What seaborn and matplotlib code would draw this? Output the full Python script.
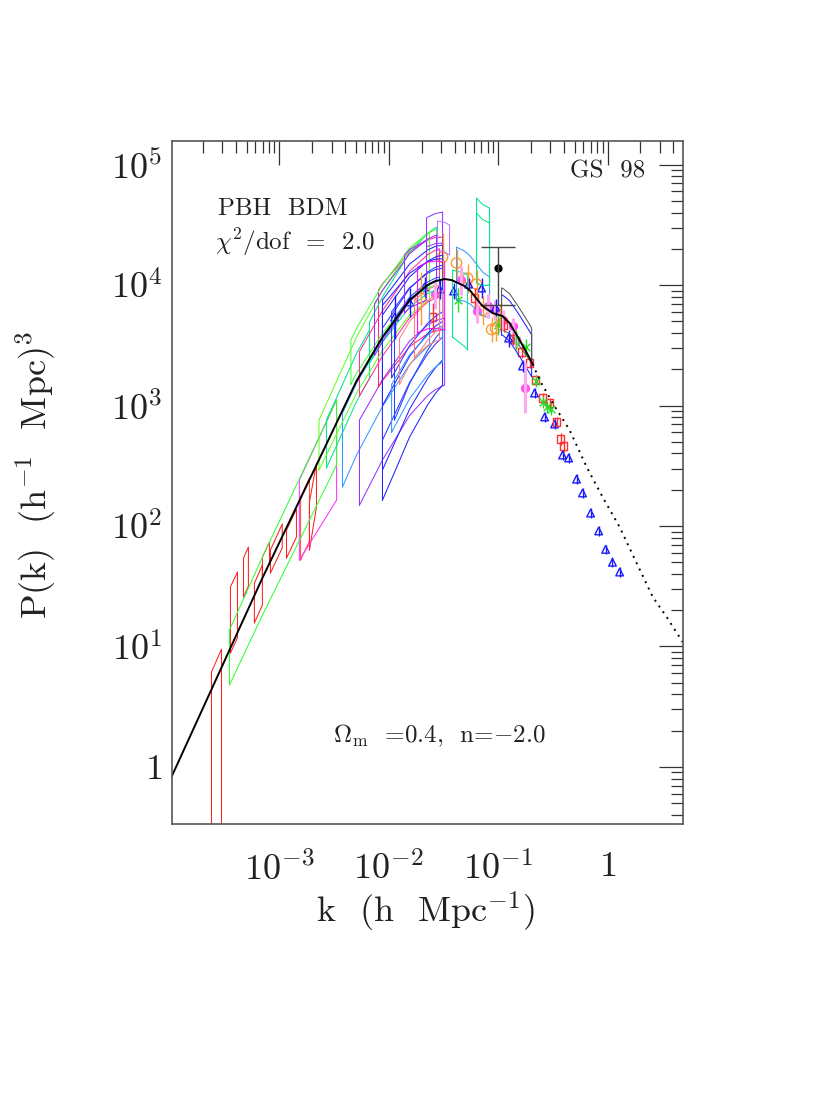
import numpy as np
import pandas as pd
import matplotlib
matplotlib.use('Agg')
import matplotlib.pyplot as plt
import seaborn as sns
from matplotlib.ticker import FixedLocator, NullFormatter

sns.set_theme(style='white')
plt.rcParams.update({
    'font.family': ['cmr10', 'DejaVu Serif'],
    'mathtext.fontset': 'cm',
    'axes.unicode_minus': False,
    'axes.formatter.use_mathtext': True,
})

# model curve (solid part, then dotted extrapolation)
model_k = [1.0e-4, 6.98e-4, 2.18e-3, 5.06e-3, 8.75e-3, 0.01175, 0.01546, 0.0226, 0.02673,
           0.0324, 0.0375, 0.0493, 0.0558, 0.0719, 0.0889, 0.1096, 0.1271, 0.157, 0.1936, 0.2065]
model_P = [0.78, 37.0, 321, 1596, 3700, 5320, 7510, 10000, 10790,
           11220, 11000, 9810, 8920, 6700, 5860, 5530, 4840, 3500, 2480, 2210]
dotted_k = [0.2065, 0.2393, 0.3147, 0.45, 0.644, 0.902, 1.29, 1.846, 2.59, 3.47, 4.86]
dotted_P = [2210, 1629, 1050, 626, 309, 174, 98, 49.3, 25.8, 17.6, 10.9]

# boxes: k1, k2, P_lo(k1), P_hi(k1), P_lo(k2), P_hi(k2), colour
boxes = [
    (2.39e-4, 2.95e-4, 0.2, 6.14, 0.2, 9.5, '#ff2020'),
    (3.56e-4, 4.13e-4, 8.83, 31.2, 11.8, 41.5, '#ff2020'),
    (4.69e-4, 5.20e-4, 25.7, 54.2, 31.8, 66.9, '#ff2020'),
    (5.90e-4, 6.98e-4, 15.7, 33.6, 22.1, 47.5, '#ff2020'),
    (6.98e-4, 8.10e-4, 37.0, 55.3, 49.3, 73.6, '#ff2020'),
    (8.27e-4, 1.06e-3, 40.7, 63.2, 65.7, 104, '#ff2020'),
    (1.16e-3, 1.43e-3, 54.2, 92.6, 81.1, 138, '#ff2020'),
    (1.56e-3, 1.88e-3, 52.2, 174, 75.1, 250, '#ff5050'),
    (1.88e-3, 2.18e-3, 63.2, 158, 144, 333, '#ff2020'),
    (1.52e-3, 3.33e-3, 52.2, 241, 164, 1111, '#ff33ff'),
    (3.49e-4, 3.33e-3, 4.79, 13.7, 321, 1111, '#33ff33'),
    (2.69e-3, 6.66e-3, 303, 758, 1690, 4234, '#00e68a'),
    (3.77e-3, 0.02356, 211, 866, 3180, 10000, '#3399ff'),
    (5.39e-3, 0.0324, 149, 758, 1480, 5320, '#9933ff'),
    (8.05e-3, 0.0310, 1425, 9100, 4240, 25010, '#ff2288'),
    (6.66e-3, 0.0273, 2250, 4930, 9100, 30280, '#00e68a'),
    (2.30e-3, 0.02356, 292, 758, 7510, 27540, '#66ff22'),
    (4.50e-3, 0.0273, 1500, 3500, 10000, 29000, '#44ff44'),
    (5.39e-3, 0.0291, 1200, 2800, 8000, 20000, '#ff3399'),
    (7.40e-3, 0.0273, 2600, 7000, 11000, 26000, '#9933ff'),
    (8.75e-3, 0.0310, 164, 7510, 1480, 21480, '#2222ff'),
    (8.75e-3, 0.0310, 292, 5640, 2390, 17740, '#2222ff'),
    (8.75e-3, 0.0310, 517, 4400, 3700, 14650, '#3333ff'),
    (8.75e-3, 0.0310, 1000, 6800, 5000, 16500, '#2222ff'),
    (0.01060, 0.0310, 1700, 6000, 6000, 13800, '#3333ff'),
    (0.01127, 0.0291, 758, 5320, 4000, 11640, '#2244ff'),
    (0.01060, 0.0310, 600, 1500, 2300, 4600, '#3399ff'),
    (0.01253, 0.0310, 1500, 3600, 4500, 9000, '#ff8080'),
    (0.02213, 0.0310, 20660, 35970, 22320, 40350, '#9933ff'),
    (0.0279, 0.0359, 19500, 33960, 17740, 31480, '#bb77ff'),
    (0.01392, 0.02213, 5860, 17740, 7510, 23620, '#9933ff'),
    (0.01832, 0.0324, 4000, 14090, 4240, 15520, '#ff00ff'),
    (0.01717, 0.0291, 2520, 7510, 3500, 10000, '#ff7777'),
    (0.0416, 0.0834, 7510, 20660, 5320, 11640, '#3399ff'),
    (0.0634, 0.0834, 10400, 52700, 10000, 43550, '#00e68a'),
    (0.0634, 0.0834, 10400, 39600, 10000, 32700, '#00e68a'),
    (0.0383, 0.0525, 3700, 13310, 2890, 12100, '#00e68a'),
    (0.1074, 0.2023, 3850, 8270, 1730, 3850, '#2222ff'),
    (0.1074, 0.2023, 4240, 9440, 2250, 4400, '#555555'),
]

# data points
blue_k = [0.0113, 0.0155, 0.0212, 0.0291, 0.0391, 0.0536, 0.0705, 0.0946, 0.1245, 0.167, 0.215,
          0.266, 0.328, 0.388, 0.441, 0.521, 0.591, 0.70, 0.83, 0.96, 1.11, 1.29]
blue_P = [5425, 7228, 9626, 9265, 8920, 10190, 9440, 6560, 3630, 2128, 1270,
          803, 702, 388, 367, 245, 188, 128, 91, 64, 50, 41.5]
blue_err = [0.18, 0.12, 0.08, 0.08, 0.07, 0.05, 0.08, 0.07, 0.07, 0.05, 0.04,
            0.04, 0.04, 0.04, 0.04, 0.04, 0.04, 0.04, 0.04, 0.04, 0.04, 0.04]

red_k = [0.0251, 0.0608, 0.112, 0.1355, 0.1637, 0.1936, 0.220, 0.2547, 0.295, 0.342, 0.372, 0.396]
red_P = [5425, 7800, 4656, 3563, 2780, 2254, 1629, 1153, 1050, 730, 527, 461]
red_err = [0.12, 0.08, 0.06, 0.05, 0.05, 0.04, 0.04, 0.04, 0.04, 0.04, 0.05, 0.05]

green_k = [0.0426, 0.0989, 0.147, 0.178, 0.224, 0.255, 0.277, 0.301]
green_P = [7510, 4656, 3497, 3058, 1597, 1068, 972, 935]
green_err = [0.10, 0.08, 0.08, 0.07, 0.05, 0.05, 0.05, 0.05]

orange_k = [0.0195, 0.031, 0.0416, 0.0525, 0.0634, 0.0719, 0.0871, 0.0946, 0.103]
orange_P = [7800, 17070, 15230, 11430, 10190, 6140, 4280, 4360, 5530]
orange_err = [0.22, 0.20, 0.12, 0.12, 0.12, 0.12, 0.10, 0.10, 0.10]

magenta_k = [0.0262, 0.0453, 0.0634, 0.080, 0.0927, 0.1096, 0.1355, 0.147, 0.1746]
magenta_P = [8420, 11000, 6140, 6680, 6210, 5130, 4570, 3497, 1397]
magenta_err = [0.12, 0.12, 0.10, 0.10, 0.08, 0.08, 0.07, 0.07, 0.21]

black_k = [0.0989]
black_P = [13840]
black_lo = [6820]
black_hi = [20660]

x_major = [1e-3, 1e-2, 1e-1, 1]
x_labels = ['$10^{-3}$', '$10^{-2}$', '$10^{-1}$', '$1$']
y_major = [1, 10, 100, 1e3, 1e4, 1e5]
y_labels = ['$1$', '$10^{1}$', '$10^{2}$', '$10^{3}$', '$10^{4}$', '$10^{5}$']

fig = plt.figure(figsize=(8.3, 11.11), dpi=100)
ax = fig.add_axes([0.2072, 0.2583, 0.6157, 0.6148])
ax.set_xscale('log')
ax.set_yscale('log')

lk_mod = np.log10(model_k)
lp_mod = np.log10(model_P)


def box_edges(k1, k2, p1, p2):
    # edge follows the model shape between the two corner values
    inner = [k for k in model_k if k1 < k < k2]
    ks = np.array([k1] + inner + [k2])
    lks = np.log10(ks)
    lm = np.interp(lks, lk_mod, lp_mod)
    t = (lks - lks[0]) / (lks[-1] - lks[0])
    off = (np.log10(p1) - lm[0]) * (1 - t) + (np.log10(p2) - lm[-1]) * t
    return ks, 10 ** (lm + off)


for k1, k2, lo1, hi1, lo2, hi2, col in boxes:
    ks, lo = box_edges(k1, k2, lo1, lo2)
    _, hi = box_edges(k1, k2, hi1, hi2)
    xs = np.concatenate([ks, ks[::-1], ks[:1]])
    ys = np.concatenate([lo, hi[::-1], lo[:1]])
    ax.plot(xs, ys, color=col, lw=0.75)


def errs(P, e):
    P = np.array(P)
    e = np.array(e)
    return [P - P / 10 ** e, P * 10 ** e - P]


ax.errorbar(magenta_k, magenta_P, yerr=errs(magenta_P, magenta_err), fmt='none',
            ecolor='#ffaaee', elinewidth=2.2)
ax.errorbar(orange_k, orange_P, yerr=errs(orange_P, orange_err), fmt='none',
            ecolor='#ff9933', elinewidth=1)
ax.errorbar(blue_k, blue_P, yerr=errs(blue_P, blue_err), fmt='none',
            ecolor='#1a1aff', elinewidth=1)
ax.errorbar(red_k, red_P, yerr=errs(red_P, red_err), fmt='none',
            ecolor='#ff3030', elinewidth=1)
ax.errorbar(green_k, green_P, yerr=errs(green_P, green_err), fmt='none',
            ecolor='#22dd22', elinewidth=1)
ax.errorbar(black_k, black_P,
            yerr=[np.array(black_P) - np.array(black_lo), np.array(black_hi) - np.array(black_P)],
            fmt='none', ecolor='#444444', elinewidth=1, capsize=12, capthick=1)

sns.scatterplot(x=magenta_k, y=magenta_P, ax=ax, marker='o', s=45, color='#ff55ee',
                edgecolor='#ff55ee', linewidth=0)
sns.scatterplot(x=orange_k, y=orange_P, ax=ax, marker='o', s=55, facecolor='none',
                edgecolor='#ff9933', linewidth=1)
sns.scatterplot(x=blue_k, y=blue_P, ax=ax, marker='^', s=30, facecolor='none',
                edgecolor='#1a1aff', linewidth=1)
sns.scatterplot(x=red_k, y=red_P, ax=ax, marker='s', s=28, facecolor='none',
                edgecolor='#ff3030', linewidth=1)
sns.scatterplot(x=green_k, y=green_P, ax=ax, marker='x', s=30, color='#22dd22',
                linewidth=1)
sns.scatterplot(x=black_k, y=black_P, ax=ax, marker='o', s=35, color='black', linewidth=0)

# model lines
sns.lineplot(x=model_k, y=model_P, ax=ax, color='black', lw=1.4, estimator=None, sort=False)
sns.lineplot(x=dotted_k, y=dotted_P, ax=ax, color='black', lw=1.4, estimator=None, sort=False,
             linestyle=(0, (1, 2.6)))

ax.set_xlim(1.04e-4, 4.9)
ax.set_ylim(0.336, 1.57e5)

ax.xaxis.set_major_locator(FixedLocator(x_major))
ax.set_xticklabels(x_labels)
ax.yaxis.set_major_locator(FixedLocator(y_major))
ax.set_yticklabels(y_labels)
minor_x = [m * 10.0 ** d for d in range(-4, 1) for m in range(2, 10)]
minor_y = [m * 10.0 ** d for d in range(-1, 6) for m in range(2, 10)]
ax.xaxis.set_minor_locator(FixedLocator(minor_x))
ax.yaxis.set_minor_locator(FixedLocator(minor_y))
ax.xaxis.set_minor_formatter(NullFormatter())
ax.yaxis.set_minor_formatter(NullFormatter())

for side in ['top', 'right', 'bottom', 'left']:
    ax.spines[side].set_visible(True)
    ax.spines[side].set_color('#555555')
    ax.spines[side].set_linewidth(1.2)
ax.tick_params(which='both', direction='in', top=True, right=True, color='#333333',
               width=0.9, labelsize=26, labelcolor='#222222')
ax.tick_params(which='major', length=17)
ax.tick_params(which='minor', length=8.5)
ax.tick_params(axis='x', pad=20)
ax.tick_params(axis='y', pad=7)

ax.set_xlabel('k  (h  Mpc$^{-1}$)', fontsize=26, color='#222222')
ax.set_ylabel('P(k)  (h$^{-1}$  Mpc)$^{3}$', fontsize=26, color='#222222')
ax.xaxis.set_label_coords(0.497, -0.097)
ax.yaxis.set_label_coords(-0.223, 0.511)

ax.text(0.926, 0.946, 'GS  98', transform=ax.transAxes, ha='right', va='baseline',
        fontsize=18, color='#222222')
ax.text(0.090, 0.892, 'PBH  BDM', transform=ax.transAxes, ha='left', va='baseline',
        fontsize=18, color='#222222')
ax.text(0.084, 0.840, r'$\chi^2$/dof  =  2.0', transform=ax.transAxes, ha='left',
        va='baseline', fontsize=18, color='#222222')
ax.text(0.315, 0.120, r'$\Omega_{\rm m}$  =0.4,  n=$-$2.0', transform=ax.transAxes,
        ha='left', va='baseline', fontsize=18, color='#222222')

fig.savefig('out.png', dpi=100, facecolor='white')
